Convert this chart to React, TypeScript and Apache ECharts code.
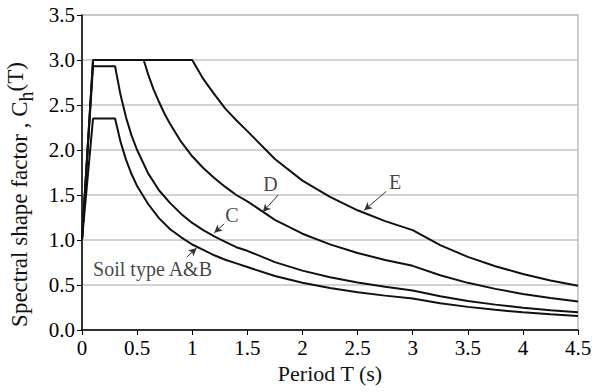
import React, { useEffect, useRef } from "react";
import * as echarts from "echarts";

// Period T (s) and spectral shape factor Ch(T)
const abT = [0, 0.1, 0.3, 0.35, 0.4, 0.45, 0.5, 0.6, 0.7, 0.8, 0.9, 1.0, 1.1, 1.2, 1.3, 1.4, 1.5, 1.75, 2.0, 2.25, 2.5, 2.75, 3.0, 3.25, 3.5, 3.75, 4.0, 4.25, 4.5];
const abCh = [1.0, 2.35, 2.35, 2.09, 1.89, 1.73, 1.6, 1.4, 1.24, 1.12, 1.03, 0.95, 0.89, 0.83, 0.78, 0.74, 0.7, 0.6, 0.525, 0.467, 0.42, 0.382, 0.35, 0.298, 0.257, 0.224, 0.197, 0.174, 0.156];

const cT = [0, 0.1, 0.3, 0.35, 0.4, 0.45, 0.5, 0.6, 0.7, 0.8, 0.9, 1.0, 1.1, 1.2, 1.3, 1.4, 1.5, 1.75, 2.0, 2.25, 2.5, 2.75, 3.0, 3.25, 3.5, 3.75, 4.0, 4.25, 4.5];
const cCh = [1.0, 2.93, 2.93, 2.61, 2.36, 2.16, 2.0, 1.74, 1.55, 1.41, 1.29, 1.19, 1.11, 1.04, 0.98, 0.92, 0.88, 0.754, 0.66, 0.587, 0.528, 0.48, 0.44, 0.375, 0.323, 0.282, 0.248, 0.219, 0.196];

const dT = [0, 0.1, 0.56, 0.6, 0.65, 0.7, 0.75, 0.8, 0.9, 1.0, 1.1, 1.2, 1.3, 1.4, 1.5, 1.75, 2.0, 2.25, 2.5, 2.75, 3.0, 3.25, 3.5, 3.75, 4.0, 4.25, 4.5];
const dCh = [1.0, 3.0, 3.0, 2.84, 2.67, 2.53, 2.4, 2.29, 2.09, 1.93, 1.8, 1.69, 1.59, 1.5, 1.43, 1.223, 1.07, 0.951, 0.856, 0.778, 0.713, 0.608, 0.524, 0.457, 0.401, 0.355, 0.317];

const eT = [0, 0.1, 1.0, 1.1, 1.2, 1.3, 1.4, 1.5, 1.75, 2.0, 2.25, 2.5, 2.75, 3.0, 3.25, 3.5, 3.75, 4.0, 4.25, 4.5];
const eCh = [1.0, 3.0, 3.0, 2.79, 2.62, 2.46, 2.33, 2.21, 1.9, 1.66, 1.48, 1.33, 1.21, 1.11, 0.943, 0.813, 0.708, 0.623, 0.551, 0.492];

const seriesNames = ["Soil type A&B", "C", "D", "E"];

// annotation labels (data coordinates) and arrows (from -> to)
const labelTexts = ["E", "D", "C", "Soil type A&B"];
const labelT = [2.84, 1.71, 1.36, 0.64];
const labelCh = [1.64, 1.62, 1.28, 0.68];
const arrowFromT = [2.76, 1.78, 1.29, 0.95];
const arrowFromCh = [1.54, 1.5, 1.18, 0.81];
const arrowToT = [2.56, 1.64, 1.2, 1.04];
const arrowToCh = [1.33, 1.31, 1.08, 0.91];

const FONT = '"Liberation Serif", "Times New Roman", serif';

const pairs = (xs: number[], ys: number[]) => xs.map((x, i) => [x, ys[i]]);

export default function App() {
  const ref = useRef<HTMLDivElement>(null);
  useEffect(() => {
    if (!ref.current) return;
    const chart = echarts.init(ref.current, null, { renderer: "svg" });
    const curves = [
      pairs(abT, abCh),
      pairs(cT, cCh),
      pairs(dT, dCh),
      pairs(eT, eCh),
    ];
    const lineSeries = curves.map((data, i) => ({
      type: "line",
      name: seriesNames[i],
      data,
      showSymbol: false,
      symbol: "none",
      lineStyle: { color: "#111", width: 2 },
      z: 3,
    }));
    const option: any = {
      animation: false,
      backgroundColor: "#fff",
      grid: {
        left: 82,
        right: 14,
        top: 15,
        bottom: 62,
        containLabel: false,
        outerBoundsMode: "none",
        show: true,
        borderColor: "#bdbdbd",
        borderWidth: 1.5,
      },
      xAxis: {
        type: "value",
        min: 0,
        max: 4.5,
        interval: 0.5,
        name: "Period T (s)",
        nameLocation: "middle",
        nameGap: 32,
        nameTextStyle: { fontFamily: FONT, fontSize: 22, color: "#111" },
        axisLine: { lineStyle: { color: "#000", width: 1.5 } },
        axisTick: { show: true, inside: false, length: 5, lineStyle: { color: "#000" } },
        axisLabel: { fontFamily: FONT, fontSize: 21, color: "#000", margin: 7 },
        splitLine: { show: false },
      },
      yAxis: {
        type: "value",
        min: 0,
        max: 3.5,
        interval: 0.5,
        name: "{n|Spectral shape factor , C}{sub|h}{sup|(T)}",
        nameLocation: "middle",
        nameGap: 46,
        nameTextStyle: {
          fontFamily: FONT,
          fontSize: 23,
          color: "#111",
          rich: {
            n: { fontFamily: FONT, fontSize: 23, color: "#111", verticalAlign: "bottom", padding: [0, 0, 5, 0] },
            sub: { fontFamily: FONT, fontSize: 20, color: "#111", verticalAlign: "bottom", padding: [0, 0, 0, 0] },
            sup: { fontFamily: FONT, fontSize: 23, color: "#111", verticalAlign: "bottom", padding: [0, 44, 9, 0] },
          },
        },
        axisLine: { show: true, lineStyle: { color: "#000", width: 1.5 } },
        axisTick: { show: true, inside: false, length: 5, lineStyle: { color: "#000" } },
        axisLabel: {
          fontFamily: FONT,
          fontSize: 21,
          color: "#000",
          margin: 7,
          formatter: (v: number) => v.toFixed(1),
        },
        splitLine: { show: true, lineStyle: { color: "#c4c4c4", width: 1.5 } },
      },
      series: [
        ...lineSeries,
        {
          type: "scatter",
          name: "labels",
          symbolSize: 1,
          itemStyle: { color: "rgba(0,0,0,0)" },
          data: labelTexts.map((t, i) => ({ value: [labelT[i], labelCh[i]], name: t })),
          label: {
            show: true,
            position: "inside",
            formatter: (p: any) => p.name,
            fontFamily: FONT,
            fontSize: 20,
            color: "#111",
          },
          markLine: {
            silent: true,
            symbol: ["none", "arrow"],
            symbolSize: [6, 8],
            lineStyle: { color: "#333", width: 1, type: "solid" },
            label: { show: false },
            data: arrowFromT.map((x, i) => [
              { coord: [x, arrowFromCh[i]] },
              { coord: [arrowToT[i], arrowToCh[i]] },
            ]),
          },
          z: 4,
        },
      ],
    };
    chart.setOption(option);
    return () => chart.dispose();
  }, []);
  return (
    <div
      ref={ref}
      style={{ position: "fixed", left: 0, top: 0, width: 592, height: 392 }}
    />
  );
}
